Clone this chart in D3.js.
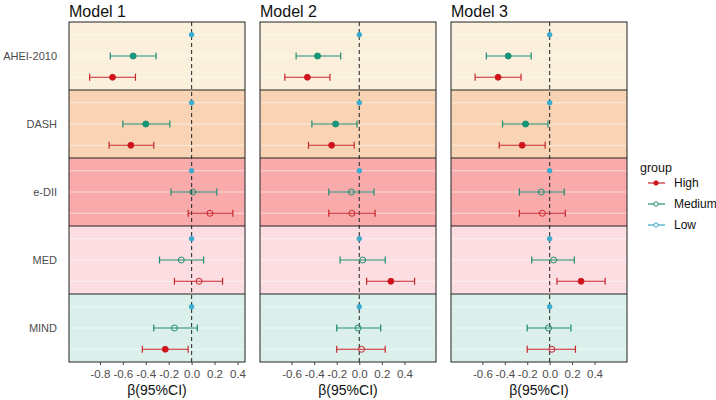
<!DOCTYPE html>
<html>
<head>
<meta charset="utf-8">
<script src="https://cdn.jsdelivr.net/npm/d3@7"></script>
<style>
  body { margin: 0; background: #fff; }
  text { font-family: "Liberation Sans", Arial, sans-serif; }
</style>
</head>
<body>
<div id="chart"></div>
<script>
// data
const models = ["Model 1", "Model 2", "Model 3"]
const scores = ["AHEI-2010", "DASH", "e-DII", "MED", "MIND"]
const groups = ["Low", "Medium", "High"]
const legendGroups = ["High", "Medium", "Low"]

// x domains and ticks for each facet (free x scales)
const xDomains = [[-1.07, 0.466], [-0.88, 0.68], [-0.88, 0.69]]
const xTicks = [
    [-0.8, -0.6, -0.4, -0.2, 0.0, 0.2, 0.4],
    [-0.6, -0.4, -0.2, 0.0, 0.2, 0.4],
    [-0.6, -0.4, -0.2, 0.0, 0.2, 0.4]
]

// beta, lower, upper : [model][score]
const medium = [
    [[-0.51, -0.71, -0.31], [-0.40, -0.60, -0.19], [0.01, -0.18, 0.22], [-0.09, -0.28, 0.105], [-0.15, -0.33, 0.05]],
    [[-0.37, -0.56, -0.165], [-0.21, -0.42, -0.02], [-0.07, -0.27, 0.13], [0.03, -0.17, 0.23], [-0.01, -0.20, 0.19]],
    [[-0.37, -0.565, -0.165], [-0.215, -0.42, -0.015], [-0.075, -0.27, 0.13], [0.035, -0.16, 0.22], [-0.01, -0.20, 0.19]]
]
const high = [
    [[-0.69, -0.89, -0.49], [-0.53, -0.72, -0.33], [0.16, -0.03, 0.36], [0.065, -0.15, 0.27], [-0.23, -0.43, -0.03]],
    [[-0.46, -0.66, -0.26], [-0.245, -0.45, -0.045], [-0.065, -0.27, 0.14], [0.28, 0.065, 0.49], [0.02, -0.20, 0.23]],
    [[-0.46, -0.665, -0.255], [-0.245, -0.45, -0.04], [-0.065, -0.27, 0.14], [0.28, 0.065, 0.495], [0.02, -0.20, 0.23]]
]
// Low is the reference group
const low = [0, 0, 0]

const bgColors = ["#FBF0DB", "#F9D4B4", "#F9AAAB", "#FCDDE1", "#DCF0EB"]
const colors = { High: "#C7262C", Medium: "#1E8C6E", Low: "#3AA8CC" }
const pointColors = { High: "#D40F17", Medium: "#14977A", Low: "#3AAFD6" }

// rows
let rows = []
models.forEach((m, mi) => {
    scores.forEach((s, si) => {
        rows.push({ model: mi, score: si, group: "Low", b: low[mi], lo: low[mi], hi: low[mi] })
        rows.push({ model: mi, score: si, group: "Medium", b: medium[mi][si][0], lo: medium[mi][si][1], hi: medium[mi][si][2] })
        rows.push({ model: mi, score: si, group: "High", b: high[mi][si][0], lo: high[mi][si][1], hi: high[mi][si][2] })
    })
})

const W = 716, H = 400
const panelLeft = [69, 260, 451]
const panelW = 176
const plotTop = 22, plotBottom = 362
const facetH = (plotBottom - plotTop) / scores.length

const svg = d3.select("#chart").append("svg")
    .attr("width", W)
    .attr("height", H)

// y scale within a facet
const yBand = d3.scalePoint()
    .domain(groups)
    .range([0, facetH])
    .padding(0.6)

const xScales = models.map((m, i) => d3.scaleLinear()
    .domain(xDomains[i])
    .range([panelLeft[i], panelLeft[i] + panelW]))

// tick labels with a plain hyphen like R
const fmt = v => d3.format(".1f")(v).replace("−", "-")

models.forEach((m, mi) => {
    const x = xScales[mi]
    const g = svg.append("g")

    // background of each facet + grid lines
    scores.forEach((s, si) => {
        const y0 = plotTop + si * facetH
        g.append("rect")
            .attr("x", panelLeft[mi])
            .attr("y", y0)
            .attr("width", panelW)
            .attr("height", facetH)
            .attr("fill", bgColors[si])
        groups.forEach(gr => {
            g.append("line")
                .attr("x1", panelLeft[mi]).attr("x2", panelLeft[mi] + panelW)
                .attr("y1", y0 + yBand(gr)).attr("y2", y0 + yBand(gr))
                .attr("stroke", "#fff").attr("stroke-opacity", 0.55).attr("stroke-width", 1.1)
        })
    })

    // zero line
    g.append("line")
        .attr("x1", x(0)).attr("x2", x(0))
        .attr("y1", plotTop).attr("y2", plotBottom)
        .attr("stroke", "#333")
        .attr("stroke-width", 1.1)
        .attr("stroke-dasharray", "4,3")

    // error bars
    const data = rows.filter(r => r.model === mi)
    const yPos = d => plotTop + d.score * facetH + yBand(d.group)

    data.filter(d => d.group !== "Low").forEach(d => {
        const yy = yPos(d)
        g.append("line")
            .attr("x1", x(d.lo)).attr("x2", x(d.hi))
            .attr("y1", yy).attr("y2", yy)
            .attr("stroke", colors[d.group]).attr("stroke-width", 1.2)
        ;[d.lo, d.hi].forEach(v => {
            g.append("line")
                .attr("x1", x(v)).attr("x2", x(v))
                .attr("y1", yy - 3.5).attr("y2", yy + 3.5)
                .attr("stroke", colors[d.group]).attr("stroke-width", 1.2)
        })
    })

    // points: filled when CI excludes 0
    const sig = d => d.hi < 0 || d.lo > 0
    g.selectAll("circle.pt")
        .data(data)
        .join("circle")
        .attr("class", "pt")
        .attr("cx", d => x(d.b))
        .attr("cy", d => yPos(d))
        .attr("r", d => d.group === "Low" ? 2.3 : 3)
        .attr("fill", d => (d.group === "Low" || sig(d)) ? pointColors[d.group] : "none")
        .attr("stroke", d => colors[d.group])
        .attr("stroke-width", 1)

    // facet separators and border
    scores.forEach((s, si) => {
        if (si > 0) {
            g.append("line")
                .attr("x1", panelLeft[mi]).attr("x2", panelLeft[mi] + panelW)
                .attr("y1", plotTop + si * facetH).attr("y2", plotTop + si * facetH)
                .attr("stroke", "#222").attr("stroke-width", 1)
        }
    })
    g.append("rect")
        .attr("x", panelLeft[mi]).attr("y", plotTop)
        .attr("width", panelW).attr("height", plotBottom - plotTop)
        .attr("fill", "none").attr("stroke", "#222").attr("stroke-width", 1)

    // x axis
    const axis = svg.append("g")
        .attr("transform", "translate(0," + plotBottom + ")")
        .call(d3.axisBottom(x).tickValues(xTicks[mi]).tickSize(3).tickFormat(fmt))
    axis.select(".domain").remove()
    axis.selectAll(".tick line").attr("stroke", "#444")
    axis.selectAll(".tick text")
        .attr("fill", "#4d4d4d")
        .attr("font-size", 11.5)
        .attr("dy", "0.9em")
        .attr("font-family", "Liberation Sans, Arial, sans-serif")

    // axis title
    svg.append("text")
        .attr("x", panelLeft[mi] + panelW / 2)
        .attr("y", 395)
        .attr("text-anchor", "middle")
        .attr("font-size", 14)
        .attr("fill", "#111")
        .text("β(95%CI)")

    // model title
    svg.append("text")
        .attr("x", panelLeft[mi])
        .attr("y", 17)
        .attr("font-size", 16)
        .attr("fill", "#111")
        .text(m)
})

// score labels on the left
scores.forEach((s, si) => {
    svg.append("text")
        .attr("x", 57)
        .attr("y", plotTop + si * facetH + facetH / 2)
        .attr("dy", "0.35em")
        .attr("text-anchor", "end")
        .attr("font-size", 11)
        .attr("fill", "#4d4d4d")
        .text(s)
})

// legend
const legend = svg.append("g").attr("transform", "translate(640,0)")
legend.append("text")
    .attr("x", 0).attr("y", 172)
    .attr("font-size", 12.5)
    .attr("fill", "#111")
    .text("group")
legendGroups.forEach((gr, i) => {
    const yy = 183 + i * 21
    legend.append("line")
        .attr("x1", 8).attr("x2", 25)
        .attr("y1", yy).attr("y2", yy)
        .attr("stroke", colors[gr]).attr("stroke-width", 1.2)
    legend.append("circle")
        .attr("cx", 16).attr("cy", yy).attr("r", 2.2)
        .attr("fill", gr === "High" ? pointColors.High : "#fff")
        .attr("stroke", colors[gr])
    legend.append("text")
        .attr("x", 34).attr("y", yy)
        .attr("dy", "0.35em")
        .attr("font-size", 12)
        .attr("fill", "#111")
        .text(gr)
})
</script>
</body>
</html>
